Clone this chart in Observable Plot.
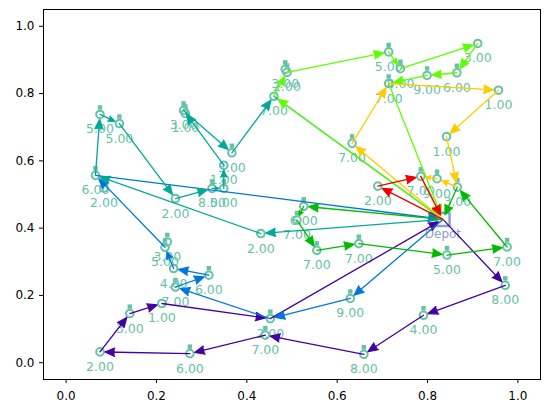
<!DOCTYPE html>
<html><head><meta charset="utf-8">
<script src="https://cdn.jsdelivr.net/npm/d3@7"></script>
<script src="https://cdn.jsdelivr.net/npm/@observablehq/plot@0.6"></script>
<style>body{margin:0;background:#fff}#chart{width:547px;height:413px}</style>
</head><body><div id="chart"></div>
<script>
// node 0 is the depot
const nodeX = [0.834,0.690,0.785,0.633,0.714,0.957,0.842,0.866,0.821,0.460,0.489,0.485,0.714,0.740,0.911,0.865,0.799,0.526,0.511,0.555,0.648,0.843,0.976,0.431,0.065,0.075,0.118,0.242,0.323,0.349,0.349,0.260,0.264,0.367,0.629,0.452,0.242,0.316,0.238,0.219,0.224,0.972,0.791,0.659,0.441,0.274,0.075,0.141,0.212,0.084];
const nodeY = [0.426,0.525,0.554,0.652,0.830,0.810,0.672,0.522,0.547,0.792,0.863,0.872,0.924,0.874,0.949,0.862,0.854,0.465,0.424,0.334,0.354,0.320,0.344,0.384,0.557,0.738,0.711,0.488,0.518,0.518,0.587,0.750,0.741,0.624,0.191,0.131,0.225,0.260,0.280,0.343,0.359,0.230,0.141,0.025,0.082,0.027,0.032,0.146,0.176,0.519];
const nodeDemand = [0,2,7,7,7,1,1,3,9,7,2,3,5,8,3,6,9,6,7,7,7,5,7,2,6,5,5,2,8,5,1,3,1,3,9,2,7,6,4,5,3,8,4,8,7,6,2,3,1,2];
const nodeFlag = [0,0,1,1,1,0,0,1,1,0,1,1,1,1,0,1,1,1,1,1,1,1,1,0,1,1,1,0,1,1,0,1,1,1,1,1,1,1,0,1,1,1,1,1,1,1,0,1,0,0];
const depotLabel = "Depot";

const routes = [
  [0,41,42,43,44,45,46,47,48,35,0],
  [0,34,35,36,37,38,39,24,0],
  [0,23,24,25,26,27,28,29,30,31,33,9,0],
  [0,17,18,19,20,21,22,7,0],
  [0,9,10,12,13,14,15,16,4,0],
  [0,3,4,5,6,7,8,2,0],
  [0,1,2,0]
];
const routeColors = ["#4400a2","#0077dd","#00aa99","#00bb00","#5eff00","#ffcc00","#ee0000"];
const xTicks = [0,0.2,0.4,0.6,0.8,1.0];
const yTicks = [0,0.2,0.4,0.6,0.8,1.0];

const nodeColor = "#66c2a5";
const depotColor = "#8da0cb";

const nodes = nodeX.map((x,i)=>({x, y:nodeY[i], demand:nodeDemand[i], flag:nodeFlag[i], i}));
const customers = nodes.filter(d=>d.i!==0);
const depot = nodes.filter(d=>d.i===0);

const sw = 1.3;
const arrowMarks = routes.map((r,k)=>{
  const segs = [];
  for (let j=0;j<r.length-1;j++) segs.push({a:nodes[r[j]], b:nodes[r[j+1]]});
  return Plot.arrow(segs, {
    x1: d=>d.a.x, y1: d=>d.a.y, x2: d=>d.b.x, y2: d=>d.b.y,
    stroke: routeColors[k], fill: routeColors[k], strokeWidth: sw,
    headLength: 10.5*1.5/sw, headAngle: 46, insetEnd: 5, strokeLinejoin: "miter"
  });
});

const plot = Plot.plot({
  width: 547, height: 413,
  marginLeft: 43, marginRight: 7, marginTop: 9, marginBottom: 34,
  style: {fontFamily: "DejaVu Sans", fontSize: "12px", background: "#fff", color: "#000"},
  x: {domain: [-0.05, 1.05]},
  y: {domain: [-0.05, 1.05]},
  marks: [
    Plot.axisX({ticks: xTicks, tickFormat: d3.format(".1f"), tickSize: 4, tickPadding: 8, label: null, fontSize: 12}),
    Plot.axisY({ticks: yTicks, tickFormat: d3.format(".1f"), tickSize: 4, tickPadding: 5, label: null, fontSize: 12}),
    Plot.dot(depot, {x:"x", y:"y", symbol:"square", r: 7.5, stroke: depotColor, strokeWidth: 2.5, fill: "none"}),
    Plot.text(depot, {x:"x", y:"y", text: ()=>depotLabel, dy: 15, fill: depotColor, fontSize: 12}),
    Plot.dot(customers, {x:"x", y:"y", r: 3.8, stroke: nodeColor, strokeWidth: 2, fill: "none"}),
    Plot.dot(customers.filter(d=>d.flag), {x:"x", y:"y", symbol:"square", r: 2.5, dy: -7, fill: nodeColor}),
    Plot.text(customers, {x:"x", y:"y", text: d=>d.demand.toFixed(2), dy: 15, fill: nodeColor, fontSize: 12.5}),
    ...arrowMarks,
    Plot.frame({stroke: "#000", strokeWidth: 1})
  ]
});
document.getElementById("chart").appendChild(plot);
</script>
</body></html>
